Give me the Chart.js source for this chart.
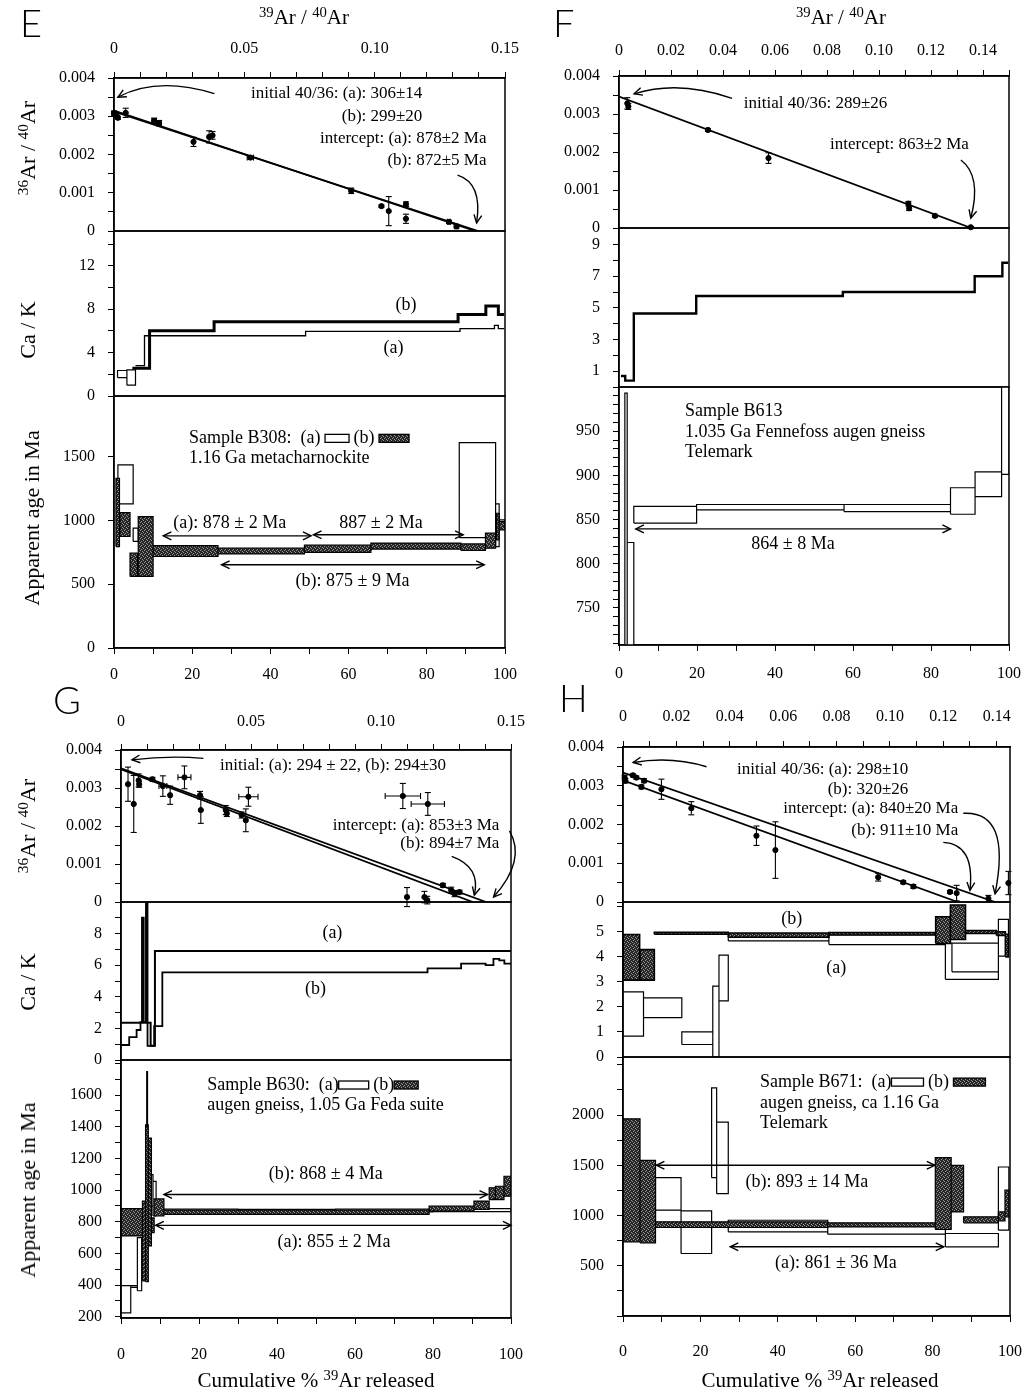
<!DOCTYPE html>
<html>
<head>
<meta charset="utf-8">
<script src="https://cdn.jsdelivr.net/npm/chart.js@4.4.1/dist/chart.umd.min.js"></script>
<style>
body { margin: 0; background: #fff; }
#page { position: relative; width: 1032px; height: 1393px; overflow: hidden; background: #fff;
        font-family: "Liberation Serif", "Times New Roman", serif; color: #000; }
canvas { position: absolute; }
.lbl { position: absolute; white-space: nowrap; line-height: 1; }
.letter { font-family: Lato, "Liberation Sans", sans-serif; font-weight: 300; font-size: 38px; }
.ttl { font-size: 21px; transform: translate(-50%, -50%); }
.rot { font-size: 22px; transform: translate(-50%, -50%) rotate(-90deg); }
sup { font-size: 0.7em; vertical-align: 0.45em; line-height: 0; }
</style>
</head>
<body>
<div id="page"></div>
<script>
// ---------- tick labels ----------
const isoXTicksEG = [0, 0.05, 0.10, 0.15];
const isoXTicksFH = [0, 0.02, 0.04, 0.06, 0.08, 0.10, 0.12, 0.14];
const isoYTicks = [0, 0.001, 0.002, 0.003, 0.004];
const pctTicks = [0, 20, 40, 60, 80, 100];
const caTicksE = [0, 4, 8, 12];
const caTicksF = [1, 3, 5, 7, 9];
const caTicksG = [0, 2, 4, 6, 8];
const caTicksH = [0, 1, 2, 3, 4, 5];
const ageTicksE = [0, 500, 1000, 1500];
const ageTicksF = [750, 800, 850, 900, 950];
const ageTicksG = [200, 400, 600, 800, 1000, 1200, 1400, 1600];
const ageTicksH = [500, 1000, 1500, 2000];

// ---------- panel E (B308) ----------
const isoE_x = [0.0000, 0.0010, 0.0015, 0.0045, 0.0154, 0.0173, 0.0305, 0.0365, 0.0378, 0.0523, 0.0910, 0.1026, 0.1054, 0.1120, 0.1120, 0.1285, 0.1314];
const isoE_y = [0.00308, 0.00302, 0.00296, 0.00309, 0.00288, 0.00282, 0.00233, 0.00246, 0.00250, 0.00192, 0.00105, 0.00065, 0.00052, 0.00070, 0.00032, 0.00024, 0.00012];
const isoE_ey = [0.00005, 0.00005, 0.00004, 0.00012, 0.00007, 0.00007, 0.00012, 0.00016, 0.00010, 0.00004, 0.00007, 0.00003, 0.00038, 0.00006, 0.00012, 0.00004, 0.00004];
const isoE_ex = [0.0008, 0, 0, 0, 0.0008, 0.0008, 0, 0, 0, 0.0012, 0.0006, 0, 0, 0.0006, 0, 0.0006, 0.0006];
const fitE_a_x = [0, 0.1397], fitE_a_y = [0.00312, 0];
const fitE_b_x = [0, 0.1386], fitE_b_y = [0.00315, 0];

const caE_a_x = [5.5, 7.8, 49, 88.5, 97.3, 98.3, 99.8];
const caE_a = [2.8, 5.55, 5.95, 6.2, 6.5, 6.2];
const caE_abox_x0 = [0.9, 3.3], caE_abox_x1 = [3.3, 5.5];
const caE_abox_lo = [1.7, 1.0], caE_abox_hi = [2.35, 2.4];
const caE_b_x = [4.7, 9.1, 25.6, 88.0, 95.1, 98.3, 99.8];
const caE_b = [2.55, 6.0, 6.85, 7.5, 8.3, 7.5];

const ageE_a_x0 = [1.0, 4.9, 10.0, 26.6, 48.7, 65.7, 88.3, 97.6, 98.5];
const ageE_a_x1 = [4.9, 6.2, 26.6, 48.7, 65.7, 88.3, 97.6, 98.5, 100];
const ageE_a_lo = [1130, 835, 756, 743, 764, 785, 865, 795, 939];
const ageE_a_hi = [1435, 939, 777, 764, 780, 806, 1610, 1130, 1004];
const ageE_b_x0 = [0.5, 1.5, 4.1, 6.2, 10.0, 26.6, 48.7, 65.7, 88.7, 95.0, 97.8, 98.5];
const ageE_b_x1 = [1.4, 4.1, 6.0, 10.0, 26.6, 48.7, 65.7, 88.7, 95.0, 97.6, 98.5, 100];
const ageE_b_lo = [795, 874, 561, 561, 717, 738, 749, 775, 764, 782, 848, 926];
const ageE_b_hi = [1330, 1061, 743, 1030, 803, 782, 806, 822, 816, 900, 1056, 991];

// ---------- panel F (B613) ----------
const isoF_x = [0.0032, 0.0036, 0.0342, 0.0575, 0.1113, 0.1116, 0.1215, 0.1353];
const isoF_y = [0.00328, 0.00320, 0.00258, 0.00184, 0.00064, 0.00052, 0.00032, 0.00002];
const isoF_ey = [0.00015, 0.00008, 0.00004, 0.00014, 0.00006, 0.00006, 0.00004, 0.00002];
const fitF_x = [0, 0.1355], fitF_y = [0.00346, 0];

const caF_x = [0.5, 1.6, 3.8, 19.8, 57.4, 91.2, 98.3, 99.8];
const caF = [0.7, 0.4, 4.65, 5.75, 6.0, 7.0, 7.85];

const ageF_x0 = [1.5, 2.1, 3.8, 19.9, 57.7, 85.0, 91.3, 98.1];
const ageF_x1 = [2.1, 3.8, 19.9, 57.7, 85.0, 91.3, 98.1, 100];
const ageF_lo = [600, 600, 846, 861, 859, 856, 876, 901];
const ageF_hi = [993, 824, 865, 867, 867, 886, 904, 1100];

// ---------- panel G (B630) ----------
const isoG_x = [0.0027, 0.0049, 0.0068, 0.0070, 0.0121, 0.0161, 0.0189, 0.0244, 0.0304, 0.0307, 0.0403, 0.0407, 0.0464, 0.0480, 0.0490, 0.1084, 0.1180, 0.1100, 0.1167, 0.1178, 0.1238, 0.1270, 0.1283, 0.1302];
const isoG_y = [0.00310, 0.00258, 0.00320, 0.00310, 0.00323, 0.00305, 0.00281, 0.00328, 0.00281, 0.00242, 0.00242, 0.00233, 0.00229, 0.00215, 0.00277, 0.00279, 0.00258, 0.00013, 0.00013, 0.00005, 0.00044, 0.00031, 0.00022, 0.00026];
const isoG_ey = [0.00045, 0.00075, 0.00017, 0.00008, 0.00005, 0.00027, 0.00024, 0.00030, 0.00010, 0.00035, 0.00012, 0.00008, 0.00008, 0.00030, 0.00025, 0.00033, 0.00030, 0.00025, 0.00015, 0.00010, 0.00005, 0.00008, 0.00008, 0.00005];
const isoG_ex = [0, 0, 0, 0, 0, 0.0015, 0, 0.0025, 0, 0, 0, 0, 0, 0, 0.0037, 0.0068, 0.0064, 0, 0, 0, 0, 0, 0, 0];
const fitG_a_x = [0, 0.1353], fitG_a_y = [0.00349, 0];
const fitG_b_x = [0, 0.1404], fitG_b_y = [0.00352, 0];

const caG_a_x = [0, 5.4, 5.8, 7.6, 8.7, 100];
const caG_a = [2.36, 9.0, 2.36, 0.9, 6.9];
const caG_b_x = [0, 2.1, 4.0, 5.0, 6.4, 6.8, 8.5, 10.6, 78.6, 87.2, 93.5, 95.5, 97.0, 98.3, 100];
const caG_b = [0.95, 1.45, 1.9, 2.4, 10.5, 0.9, 2.15, 5.55, 5.8, 6.1, 6.0, 6.4, 6.3, 6.1];

const ageG_a_x0 = [0, 2.5, 4.2, 7.6, 8.2, 9.0, 30, 55, 80];
const ageG_a_x1 = [2.5, 4.2, 5.3, 8.2, 9.0, 30, 55, 80, 100];
const ageG_a_lo = [224, 385, 364, 898, 836, 862, 860, 862, 864];
const ageG_a_hi = [396, 396, 700, 1097, 1055, 880, 878, 880, 882];
const ageG_b_x0 = [0, 5.5, 6.3, 6.6, 7.0, 7.8, 8.5, 11, 79, 90.5, 94.4, 96, 98.2];
const ageG_b_x1 = [5.5, 6.3, 7.0, 6.8, 7.8, 8.5, 11, 79, 90.5, 94.4, 96, 98.2, 100];
const ageG_b_lo = [710, 427, 421, 1401, 647, 731, 836, 846, 867, 878, 940, 940, 961];
const ageG_b_hi = [882, 930, 1412, 1747, 1328, 825, 944, 873, 898, 930, 1014, 1024, 1087];

// ---------- panel H (B671) ----------
const isoH_x = [0.0006, 0.0009, 0.0037, 0.0050, 0.0069, 0.0079, 0.0144, 0.0256, 0.0500, 0.0571, 0.0956, 0.1050, 0.1088, 0.1225, 0.1250, 0.1369, 0.1444];
const isoH_y = [0.00321, 0.00313, 0.00327, 0.00321, 0.00297, 0.00313, 0.00291, 0.00242, 0.00171, 0.00134, 0.00064, 0.00051, 0.00040, 0.00026, 0.00023, 0.00009, 0.00049];
const isoH_ey = [0.00006, 0.00006, 0.00004, 0.00004, 0.00005, 0.00005, 0.00026, 0.00017, 0.00025, 0.00073, 0.00010, 0.00004, 0.00005, 0.00004, 0.00020, 0.00008, 0.00030];
const fitH_a_x = [0, 0.1394], fitH_a_y = [0.00334, 0];
const fitH_b_x = [0, 0.1254], fitH_b_y = [0.00314, 0];

const caH_a_x0 = [0, 5.3, 15.2, 23.2, 24.8, 27.2, 53.2, 83.3, 85.0, 97.0];
const caH_a_x1 = [5.3, 15.2, 23.2, 24.8, 27.2, 53.2, 83.3, 97.0, 97.0, 99.6];
const caH_a_lo = [0.83, 1.57, 0.5, 0.0, 2.24, 4.64, 4.49, 3.1, 3.4, 4.03];
const caH_a_hi = [2.6, 2.36, 1.0, 2.83, 4.07, 4.83, 4.89, 4.55, 4.55, 5.5];
const caH_b_x0 = [0, 4.4, 8.1, 27.2, 53.2, 80.8, 84.6, 88.5, 96.5, 98.8];
const caH_b_x1 = [4.3, 8.1, 27.2, 53.2, 80.8, 84.6, 88.5, 96.5, 98.8, 99.6];
const caH_b_lo = [3.07, 3.07, 4.90, 4.78, 4.87, 4.53, 4.69, 4.93, 4.85, 4.0];
const caH_b_hi = [4.89, 4.29, 4.98, 4.95, 4.97, 5.6, 6.07, 5.05, 5.0, 4.9];

const ageH_a_x0 = [0, 8.4, 15.0, 22.9, 24.2, 27.2, 52.9, 83.3, 97.0];
const ageH_a_x1 = [8.4, 15.0, 22.9, 24.2, 27.2, 52.9, 83.3, 97.0, 99.7];
const ageH_a_lo = [880, 1053, 622, 1377, 1218, 838, 814, 689, 854];
const ageH_a_hi = [1060, 1377, 1046, 2271, 1930, 953, 920, 821, 1483];
const ageH_b_x0 = [0, 4.4, 8.4, 52.9, 80.7, 84.8, 88.0, 97.0, 98.7];
const ageH_b_x1 = [4.4, 8.4, 52.9, 80.7, 84.8, 88.0, 97.0, 98.7, 99.7];
const ageH_b_lo = [738, 728, 881, 887, 861, 1036, 927, 947, 987];
const ageH_b_hi = [1963, 1550, 937, 927, 1576, 1500, 987, 1036, 1252];

// ---------- helpers ----------
Chart.defaults.font.family = '"Liberation Serif", "Times New Roman", serif';
Chart.defaults.font.size = 16;
Chart.defaults.color = '#000';

const page = document.getElementById('page');
const notesById = {};

function makeDark() {
  const pc = document.createElement('canvas');
  pc.width = 4; pc.height = 4;
  const g = pc.getContext('2d');
  g.fillStyle = '#262626'; g.fillRect(0, 0, 4, 4);
  g.fillStyle = '#959595';
  g.fillRect(0, 0, 1, 1); g.fillRect(2, 1, 1, 1); g.fillRect(1, 3, 1, 1); g.fillRect(3, 2, 1, 1);
  return g.createPattern(pc, 'repeat');
}
const darkFill = makeDark();

function xy(xs, ys) { return xs.map((x, i) => ({x: x, y: ys[i]})); }

function boxPts(x0, x1, lo, hi) {
  const p = [];
  for (let i = 0; i < x0.length; i++) {
    p.push({x: x0[i], y: lo[i]}, {x: x1[i], y: lo[i]}, {x: x1[i], y: hi[i]},
           {x: x0[i], y: hi[i]}, {x: x0[i], y: lo[i]}, {x: x0[i], y: null});
  }
  return p;
}

function stepPts(xs, vs) {
  const p = [];
  for (let i = 0; i < vs.length; i++) p.push({x: xs[i], y: vs[i]}, {x: xs[i + 1], y: vs[i]});
  return p;
}

function line(data, extra) {
  return Object.assign({data: data, showLine: true, pointRadius: 0, borderColor: '#000',
    backgroundColor: 'transparent', borderWidth: 1.2, fill: false, spanGaps: false, tension: 0}, extra);
}

function dots(data, extra) {
  return Object.assign({data: data, showLine: false, pointRadius: 2.6, borderColor: '#000',
    pointBorderColor: '#000', pointBackgroundColor: '#000', clip: 6}, extra);
}

function isoSets(xs, ys, eys, exs, fits) {
  const bars = [], capsY = [], capsX = [];
  xs.forEach((x, i) => {
    const y = ys[i], ey = eys[i], ex = exs ? exs[i] : 0;
    if (ey > 0) {
      bars.push({x: x, y: y - ey}, {x: x, y: y + ey}, {x: x, y: null});
      capsY.push({x: x, y: y - ey}, {x: x, y: y + ey});
    }
    if (ex > 0) {
      bars.push({x: x - ex, y: y}, {x: x + ex, y: y}, {x: x, y: null});
      capsX.push({x: x - ex, y: y}, {x: x + ex, y: y});
    }
  });
  const sets = fits.map(f => line(xy(f[0], f[1]), {borderWidth: 1.8}));
  sets.push(line(bars, {borderWidth: 1.1, clip: 6}));
  sets.push(dots(capsY, {pointStyle: 'line', pointRadius: 3, pointBorderWidth: 1.1}));
  sets.push(dots(capsX, {pointStyle: 'line', pointRadius: 3, pointRotation: 90, pointBorderWidth: 1.1}));
  sets.push(dots(xy(xs, ys)));
  return sets;
}

function boxesA(x0, x1, lo, hi) {
  return line(boxPts(x0, x1, lo, hi), {fill: 'shape', backgroundColor: '#fff', borderWidth: 1.2, order: 2});
}
function boxesB(x0, x1, lo, hi, bw) {
  return line(boxPts(x0, x1, lo, hi), {fill: 'shape', backgroundColor: darkFill, borderWidth: bw || 1.2, order: 1});
}

function head(ctx, x, y, ang) {
  const L = 9, s = 0.45;
  ctx.beginPath();
  ctx.moveTo(x - L * Math.cos(ang - s), y - L * Math.sin(ang - s));
  ctx.lineTo(x, y);
  ctx.lineTo(x - L * Math.cos(ang + s), y - L * Math.sin(ang + s));
  ctx.stroke();
}

const deco = {
  id: 'deco',
  afterDatasetsDraw(chart) {
    const ctx = chart.ctx, a = chart.chartArea;
    const sx = chart.scales.x, sy = chart.scales.y;
    const X = v => sx.getPixelForValue(v), Y = v => sy.getPixelForValue(v);
    const n = notesById[chart.canvas.id] || {};
    ctx.save();
    ctx.strokeStyle = '#000';
    ctx.fillStyle = '#000';
    ctx.lineWidth = 1.5;
    ctx.strokeRect(a.left, a.top, a.right - a.left, a.bottom - a.top);
    ctx.lineWidth = 1.4;
    (n.curves || []).forEach(c => {
      const x0 = X(c[0]), y0 = Y(c[1]), cx = X(c[2]), cy = Y(c[3]), x1 = X(c[4]), y1 = Y(c[5]);
      ctx.beginPath();
      ctx.moveTo(x0, y0);
      ctx.quadraticCurveTo(cx, cy, x1, y1);
      ctx.stroke();
      head(ctx, x1, y1, Math.atan2(y1 - cy, x1 - cx));
    });
    (n.spans || []).forEach(s => {
      const x0 = X(s[0]), x1 = X(s[1]), y = Y(s[2]);
      ctx.beginPath(); ctx.moveTo(x0, y); ctx.lineTo(x1, y); ctx.stroke();
      head(ctx, x0, y, Math.PI);
      head(ctx, x1, y, 0);
    });
    (n.texts || []).forEach(t => {
      ctx.font = (t.size || 17) + 'px "Liberation Serif"';
      ctx.textBaseline = 'middle';
      let x = X(t.x);
      const y = Y(t.y);
      if (t.parts) {
        ctx.textAlign = 'left';
        t.parts.forEach(p => {
          if (typeof p === 'string') {
            ctx.fillText(p, x, y);
            x += ctx.measureText(p).width;
          } else {
            ctx.fillStyle = p.sw === 'b' ? darkFill : '#fff';
            ctx.fillRect(x, y - 4, p.w, 8);
            ctx.lineWidth = 1.3;
            ctx.strokeRect(x, y - 4, p.w, 8);
            ctx.fillStyle = '#000';
            x += p.w;
          }
        });
      } else {
        ctx.textAlign = t.a || 'left';
        ctx.fillText(t.s, x, y);
      }
    });
    ctx.restore();
  }
};

function tickVals(min, max, step) {
  const v = [];
  for (let k = Math.ceil(min / step - 1e-9); k * step <= max + 1e-9; k++) v.push(Number((k * step).toFixed(10)));
  return v;
}
function labeler(list, fmt) {
  return v => list.some(t => Math.abs(t - v) <= Math.abs(t) * 1e-6 + 1e-12) ? fmt(v) : '';
}
const fmtIsoX = v => v === 0 ? '0' : v.toFixed(2);
const fmtIsoY = v => v === 0 ? '0' : v.toFixed(3);
const fmtInt = v => String(v);

const M = {l: 110, r: 40, t: 14, b: 14, axT: 50, axB: 50};

function makeChart(o) {
  const top = o.xPos === 'top', bot = o.xPos === 'bottom';
  const mt = top ? M.axT : M.t, mb = bot ? M.axB : M.b;
  const cv = document.createElement('canvas');
  cv.id = o.id;
  const w = o.box.r - o.box.l + M.l + M.r, h = o.box.b - o.box.t + mt + mb;
  cv.width = w; cv.height = h;
  cv.style.width = w + 'px'; cv.style.height = h + 'px';
  cv.style.left = (o.box.l - M.l) + 'px';
  cv.style.top = (o.box.t - mt) + 'px';
  page.appendChild(cv);
  notesById[o.id] = o.notes || {};
  const xv = tickVals(o.x[0], o.x[1], o.x[2]);
  const yv = tickVals(o.y[0], o.y[1], o.y[2]);
  const xScale = {
    type: 'linear', position: top ? 'top' : 'bottom', display: !!o.xPos,
    min: o.x[0], max: o.x[1],
    border: {display: true, color: '#000', width: 1.5},
    grid: {drawOnChartArea: false, tickLength: 6, color: '#000', tickColor: '#000'},
    afterBuildTicks: s => { s.ticks = xv.map(v => ({value: v})); },
    ticks: {autoSkip: false, maxRotation: 0, padding: o.xPad || 12, callback: labeler(o.xLabels, o.xFmt)}
  };
  if (o.xPos) xScale.afterFit = s => { s.height = top ? M.axT : M.axB; s.paddingLeft = 0; s.paddingRight = 0; };
  return new Chart(cv, {
    type: 'line',
    data: {datasets: o.datasets},
    options: {
      responsive: false, animation: false, events: [],
      layout: {autoPadding: false, padding: {left: 0, right: M.r, top: top ? 0 : mt, bottom: bot ? 0 : mb}},
      plugins: {legend: {display: false}, tooltip: {enabled: false}},
      scales: {
        x: xScale,
        y: {
          type: 'linear', position: 'left', min: o.y[0], max: o.y[1],
          border: {display: true, color: '#000', width: 1.5},
          grid: {drawOnChartArea: false, tickLength: 6, color: '#000', tickColor: '#000'},
          afterFit: s => { s.width = M.l; s.paddingTop = 0; s.paddingBottom = 0; },
          afterBuildTicks: s => { s.ticks = yv.map(v => ({value: v})); },
          ticks: {autoSkip: false, padding: 13, callback: labeler(o.yLabels, o.yFmt)}
        }
      }
    },
    plugins: [deco]
  });
}

function addLabel(html, x, y, cls) {
  const d = document.createElement('div');
  d.className = 'lbl ' + cls;
  d.innerHTML = html;
  d.style.left = x + 'px';
  d.style.top = y + 'px';
  page.appendChild(d);
}

// ---------- panel E ----------
makeChart({
  id: 'e1', box: {l: 114, r: 505, t: 78, b: 231}, xPos: 'top', xPad: 14,
  x: [0, 0.15, 0.01], xLabels: isoXTicksEG, xFmt: fmtIsoX,
  y: [0, 0.004, 0.0005], yLabels: isoYTicks, yFmt: fmtIsoY,
  datasets: isoSets(isoE_x, isoE_y, isoE_ey, isoE_ex, [[fitE_a_x, fitE_a_y], [fitE_b_x, fitE_b_y]]),
  notes: {
    texts: [
      {x: 0.1183, y: 0.00359, s: 'initial 40/36: (a): 306±14', a: 'right'},
      {x: 0.1183, y: 0.00300, s: '(b): 299±20', a: 'right'},
      {x: 0.1429, y: 0.00241, s: 'intercept: (a): 878±2 Ma', a: 'right'},
      {x: 0.1429, y: 0.00183, s: '(b): 872±5 Ma', a: 'right'}
    ],
    curves: [[0.0385, 0.00359, 0.0167, 0.00405, 0.0015, 0.0035], [0.1318, 0.00146, 0.1415, 0.00125, 0.1391, 0.00021]]
  }
});
makeChart({
  id: 'e2', box: {l: 114, r: 505, t: 231, b: 396},
  x: [0, 100, 10], xLabels: pctTicks, xFmt: fmtInt,
  y: [0, 15.2, 2], yLabels: caTicksE, yFmt: fmtInt,
  datasets: [
    boxesA(caE_abox_x0, caE_abox_x1, caE_abox_lo, caE_abox_hi),
    line(stepPts(caE_a_x, caE_a), {borderWidth: 1.3}),
    line(stepPts(caE_b_x, caE_b), {borderWidth: 3})
  ],
  notes: {texts: [{x: 74.7, y: 8.35, s: '(b)', a: 'center', size: 18}, {x: 71.5, y: 4.4, s: '(a)', a: 'center', size: 18}]}
});
makeChart({
  id: 'e3', box: {l: 114, r: 505, t: 396, b: 648}, xPos: 'bottom', xPad: 11,
  x: [0, 100, 10], xLabels: pctTicks, xFmt: fmtInt,
  y: [0, 1975, 500], yLabels: ageTicksE, yFmt: fmtInt,
  datasets: [
    boxesA(ageE_a_x0, ageE_a_x1, ageE_a_lo, ageE_a_hi),
    boxesB(ageE_b_x0, ageE_b_x1, ageE_b_lo, ageE_b_hi)
  ],
  notes: {
    texts: [
      {x: 19.2, y: 1643, size: 18, parts: ['Sample B308:  (a) ', {sw: 'a', w: 24}, ' (b) ', {sw: 'b', w: 30}]},
      {x: 19.2, y: 1487, s: '1.16 Ga metacharnockite', size: 18},
      {x: 29.6, y: 978, s: '(a): 878 ± 2 Ma', a: 'center', size: 18},
      {x: 68.3, y: 978, s: '887 ± 2 Ma', a: 'center', size: 18},
      {x: 61, y: 522, s: '(b): 875 ± 9 Ma', a: 'center', size: 18}
    ],
    spans: [[12.6, 50.4, 879], [51, 89.3, 887], [27.5, 94.7, 652]]
  }
});

// ---------- panel F ----------
makeChart({
  id: 'f1', box: {l: 619, r: 1009, t: 76, b: 228}, xPos: 'top', xPad: 10,
  x: [0, 0.15, 0.01], xLabels: isoXTicksFH, xFmt: fmtIsoX,
  y: [0, 0.004, 0.0005], yLabels: isoYTicks, yFmt: fmtIsoY,
  datasets: isoSets(isoF_x, isoF_y, isoF_ey, null, [[fitF_x, fitF_y]]),
  notes: {
    texts: [
      {x: 0.048, y: 0.00328, s: 'initial 40/36: 289±26'},
      {x: 0.0812, y: 0.0022, s: 'intercept: 863±2 Ma'}
    ],
    curves: [[0.0435, 0.00341, 0.023, 0.0039, 0.0058, 0.00353], [0.1315, 0.00179, 0.1396, 0.00137, 0.1353, 0.00026]]
  }
});
makeChart({
  id: 'f2', box: {l: 619, r: 1009, t: 228, b: 387},
  x: [0, 100, 10], xLabels: pctTicks, xFmt: fmtInt,
  y: [0, 10.05, 1], yLabels: caTicksF, yFmt: fmtInt,
  datasets: [line(stepPts(caF_x, caF), {borderWidth: 2.4})]
});
makeChart({
  id: 'f3', box: {l: 619, r: 1009, t: 387, b: 645}, xPos: 'bottom', xPad: 13,
  x: [0, 100, 10], xLabels: pctTicks, xFmt: fmtInt,
  y: [708, 1000, 10], yLabels: ageTicksF, yFmt: fmtInt,
  datasets: [boxesA(ageF_x0, ageF_x1, ageF_lo, ageF_hi)],
  notes: {
    texts: [
      {x: 16.9, y: 972.6, s: 'Sample B613', size: 18},
      {x: 16.9, y: 948.9, s: '1.035 Ga Fennefoss augen gneiss', size: 18},
      {x: 16.9, y: 926, s: 'Telemark', size: 18},
      {x: 44.6, y: 821.7, s: '864 ± 8 Ma', a: 'center', size: 18}
    ],
    spans: [[4.3, 85, 839.4]]
  }
});

// ---------- panel G ----------
makeChart({
  id: 'g1', box: {l: 121, r: 511, t: 750, b: 902}, xPos: 'top', xPad: 13,
  x: [0, 0.15, 0.01], xLabels: isoXTicksEG, xFmt: fmtIsoX,
  y: [0, 0.004, 0.0005], yLabels: isoYTicks, yFmt: fmtIsoY,
  datasets: isoSets(isoG_x, isoG_y, isoG_ey, isoG_ex, [[fitG_a_x, fitG_a_y], [fitG_b_x, fitG_b_y]]),
  notes: {
    texts: [
      {x: 0.0381, y: 0.0036, s: 'initial: (a): 294 ± 22, (b): 294±30'},
      {x: 0.1455, y: 0.00202, s: 'intercept: (a): 853±3 Ma', a: 'right'},
      {x: 0.1455, y: 0.00154, s: '(b): 894±7 Ma', a: 'right'}
    ],
    curves: [[0.0317, 0.00378, 0.0183, 0.00386, 0.0042, 0.00374],
             [0.1272, 0.0012, 0.1385, 0.00092, 0.1359, 0.00018],
             [0.1494, 0.00187, 0.156, 0.0011, 0.1433, 0.00013]]
  }
});
makeChart({
  id: 'g2', box: {l: 121, r: 511, t: 902, b: 1060},
  x: [0, 100, 10], xLabels: pctTicks, xFmt: fmtInt,
  y: [0, 10, 1], yLabels: caTicksG, yFmt: fmtInt,
  datasets: [
    line(stepPts(caG_a_x, caG_a), {borderWidth: 2}),
    line(stepPts(caG_b_x, caG_b), {borderWidth: 1.8})
  ],
  notes: {texts: [{x: 54.2, y: 8.05, s: '(a)', a: 'center', size: 18}, {x: 49.9, y: 4.5, s: '(b)', a: 'center', size: 18}]}
});
makeChart({
  id: 'g3', box: {l: 121, r: 511, t: 1060, b: 1318}, xPos: 'bottom', xPad: 21,
  x: [0, 100, 10], xLabels: pctTicks, xFmt: fmtInt,
  y: [192, 1821, 100], yLabels: ageTicksG, yFmt: fmtInt,
  datasets: [
    boxesA(ageG_a_x0, ageG_a_x1, ageG_a_lo, ageG_a_hi),
    boxesB(ageG_b_x0, ageG_b_x1, ageG_b_lo, ageG_b_hi)
  ],
  notes: {
    texts: [
      {x: 22.1, y: 1663, size: 18, parts: ['Sample B630:  (a)', {sw: 'a', w: 30}, ' (b)', {sw: 'b', w: 24}]},
      {x: 22.1, y: 1537, s: 'augen gneiss, 1.05 Ga Feda suite', size: 18},
      {x: 52.5, y: 1097, s: '(b): 868 ± 4 Ma', a: 'center', size: 18},
      {x: 54.6, y: 668, s: '(a): 855 ± 2 Ma', a: 'center', size: 18}
    ],
    spans: [[11, 94, 972], [8.9, 100, 777]]
  }
});

// ---------- panel H ----------
makeChart({
  id: 'h1', box: {l: 623, r: 1010, t: 747, b: 902}, xPos: 'top', xPad: 15,
  x: [0, 0.145, 0.01], xLabels: isoXTicksFH, xFmt: fmtIsoX,
  y: [0, 0.004, 0.0005], yLabels: isoYTicks, yFmt: fmtIsoY,
  datasets: isoSets(isoH_x, isoH_y, isoH_ey, null, [[fitH_a_x, fitH_a_y], [fitH_b_x, fitH_b_y]]),
  notes: {
    texts: [
      {x: 0.1069, y: 0.00343, s: 'initial 40/36: (a): 298±10', a: 'right'},
      {x: 0.1069, y: 0.00291, s: '(b): 320±26', a: 'right'},
      {x: 0.1256, y: 0.0024, s: 'intercept: (a): 840±20 Ma', a: 'right'},
      {x: 0.1256, y: 0.00184, s: '(b): 911±10 Ma', a: 'right'}
    ],
    curves: [[0.0313, 0.00349, 0.0181, 0.00377, 0.0038, 0.0036],
             [0.12, 0.00154, 0.1319, 0.0015, 0.13, 0.0003],
             [0.1275, 0.00229, 0.1456, 0.00236, 0.1394, 0.00021]]
  }
});
makeChart({
  id: 'h2', box: {l: 623, r: 1010, t: 902, b: 1057},
  x: [0, 100, 10], xLabels: pctTicks, xFmt: fmtInt,
  y: [0, 6.19, 1], yLabels: caTicksH, yFmt: fmtInt,
  datasets: [
    boxesA(caH_a_x0, caH_a_x1, caH_a_lo, caH_a_hi),
    boxesB(caH_b_x0, caH_b_x1, caH_b_lo, caH_b_hi, 1.6)
  ],
  notes: {texts: [{x: 43.6, y: 5.49, s: '(b)', a: 'center', size: 18}, {x: 55.1, y: 3.53, s: '(a)', a: 'center', size: 18}]}
});
makeChart({
  id: 'h3', box: {l: 623, r: 1010, t: 1057, b: 1316}, xPos: 'bottom', xPad: 20,
  x: [0, 100, 10], xLabels: pctTicks, xFmt: fmtInt,
  y: [0, 2578, 250], yLabels: ageTicksH, yFmt: fmtInt,
  datasets: [
    boxesA(ageH_a_x0, ageH_a_x1, ageH_a_lo, ageH_a_hi),
    boxesB(ageH_b_x0, ageH_b_x1, ageH_b_lo, ageH_b_hi)
  ],
  notes: {
    texts: [
      {x: 35.4, y: 2328, size: 18, parts: ['Sample B671:  (a)', {sw: 'a', w: 32}, ' (b) ', {sw: 'b', w: 32}]},
      {x: 35.4, y: 2119, s: 'augen gneiss, ca 1.16 Ga', size: 18},
      {x: 35.4, y: 1921, s: 'Telemark', size: 18},
      {x: 47.5, y: 1334, s: '(b): 893 ± 14 Ma', a: 'center', size: 18},
      {x: 55, y: 523, s: '(a): 861 ± 36 Ma', a: 'center', size: 18}
    ],
    spans: [[8.6, 80.6, 1500], [27.7, 82.9, 689]]
  }
});

// ---------- titles and letters ----------
addLabel('E', 20, 3, 'letter');
addLabel('F', 553, 3, 'letter');
addLabel('G', 53, 680, 'letter');
addLabel('H', 559, 678, 'letter');
addLabel('<sup>39</sup>Ar / <sup>40</sup>Ar', 304, 17, 'ttl');
addLabel('<sup>39</sup>Ar / <sup>40</sup>Ar', 841, 17, 'ttl');
addLabel('<sup>36</sup>Ar / <sup>40</sup>Ar', 28, 148, 'rot');
addLabel('<sup>36</sup>Ar / <sup>40</sup>Ar', 28, 826, 'rot');
addLabel('Ca / K', 28, 330, 'rot');
addLabel('Ca / K', 28, 982, 'rot');
addLabel('Apparent age in Ma', 32, 518, 'rot');
addLabel('Apparent age in Ma', 28, 1190, 'rot');
addLabel('Cumulative % <sup>39</sup>Ar released', 316, 1380, 'ttl');
addLabel('Cumulative % <sup>39</sup>Ar released', 820, 1380, 'ttl');
</script>
</body>
</html>
